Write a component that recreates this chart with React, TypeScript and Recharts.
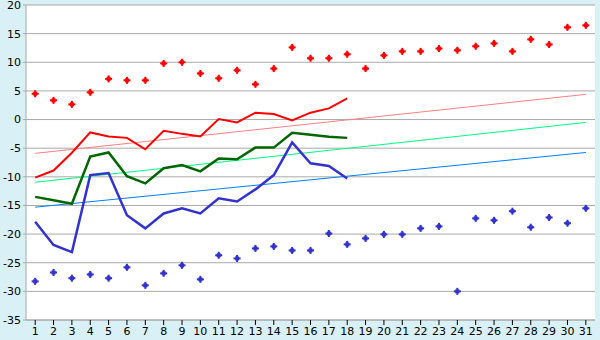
import React from 'react';
import { ComposedChart, Line, XAxis, YAxis, CartesianGrid } from 'recharts';

const days = [1, 2, 3, 4, 5, 6, 7, 8, 9, 10, 11, 12, 13, 14, 15, 16, 17, 18, 19, 20, 21, 22, 23, 24, 25, 26, 27, 28, 29, 30, 31];

// daily max / min markers
const highDots = [4.5, 3.35, 2.65, 4.75, 7.1, 6.85, 6.85, 9.8, 10.0, 8.05, 7.2, 8.6, 6.15, 8.9, 12.6, 10.7, 10.7, 11.4, 8.9, 11.2, 11.9, 11.9, 12.4, 12.1, 12.8, 13.3, 11.9, 14.0, 13.1, 16.1, 16.45];
const lowDots = [-28.25, -26.7, -27.7, -27.05, -27.7, -25.8, -28.95, -26.85, -25.45, -27.9, -23.7, -24.25, -22.5, -22.15, -22.85, -22.85, -19.9, -21.8, -20.75, -20.05, -20.05, -19.0, -18.65, -30.0, -17.25, -17.6, -16.0, -18.8, -17.1, -18.1, -15.5];

// measured so far (days 1..18)
const maxLine = [-10.15, -8.9, -5.8, -2.25, -2.95, -3.2, -5.2, -1.95, -2.5, -2.95, 0.1, -0.5, 1.2, 0.95, -0.15, 1.2, 1.95, 3.7];
const meanLine = [-13.5, -14.1, -14.7, -6.45, -5.75, -9.9, -11.15, -8.5, -7.95, -9.05, -6.8, -6.95, -4.9, -4.9, -2.3, -2.65, -3.0, -3.2];
const minLine = [-17.85, -21.9, -23.15, -9.7, -9.35, -16.7, -19.0, -16.4, -15.5, -16.4, -13.75, -14.3, -12.2, -9.7, -4.0, -7.65, -8.1, -10.3];

// normal values, start and end of month
const normMax = [-5.9, 4.4];
const normMean = [-10.95, -0.5];
const normMin = [-15.3, -5.75];

const yTicks = [20, 15, 10, 5, 0, -5, -10, -15, -20, -25, -30, -35];

const last = days.length - 1;
const data = days.map((d, i) => ({
  day: d,
  hi: highDots[i],
  lo: lowDots[i],
  max: i < maxLine.length ? maxLine[i] : null,
  mean: i < meanLine.length ? meanLine[i] : null,
  min: i < minLine.length ? minLine[i] : null,
  nMax: i === 0 ? normMax[0] : i === last ? normMax[1] : null,
  nMean: i === 0 ? normMean[0] : i === last ? normMean[1] : null,
  nMin: i === 0 ? normMin[0] : i === last ? normMin[1] : null,
}));

const Plus = (color: string) => (props: any) => {
  const { cx, cy, index } = props;
  if (cx == null || cy == null) return <g key={index} />;
  return (
    <g key={index} fill={color}>
      <rect x={cx - 3.5} y={cy - 1} width={7} height={2} />
      <rect x={cx - 1} y={cy - 3.5} width={2} height={7} />
      <rect x={cx - 2} y={cy - 2} width={4} height={4} />
    </g>
  );
};

const tickStyle = { fontFamily: 'DejaVu Sans', fontSize: 11, fill: '#000' };

export default function App() {
  return (
    <div style={{ position: 'fixed', left: 0, top: 0, width: 600, height: 340, background: '#d9f0f7' }}>
      <ComposedChart width={600} height={340} data={data} margin={{ top: 5, right: 5, left: 0, bottom: 0 }}>
        <CartesianGrid vertical={false} stroke="#aaaaaa" fill="#ffffff" />
        <XAxis
          dataKey="day"
          scale="band"
          height={20}
          tick={tickStyle}
          tickSize={5}
          tickMargin={2}
          interval={0}
          stroke="#aaaaaa"
          tickLine={{ stroke: '#000' }}
        />
        <YAxis
          domain={[-35, 20]}
          ticks={yTicks}
          width={26}
          tick={tickStyle}
          tickSize={3}
          tickMargin={2}
          interval={0}
          stroke="#aaaaaa"
        />
        <YAxis yAxisId="r" orientation="right" width={0} domain={[-35, 20]} tick={false} tickLine={false} stroke="#aaaaaa" />
        <Line dataKey="nMax" stroke="#ff8080" strokeWidth={1} dot={false} connectNulls isAnimationActive={false} />
        <Line dataKey="nMean" stroke="#00ff80" strokeWidth={1} dot={false} connectNulls isAnimationActive={false} />
        <Line dataKey="nMin" stroke="#0080ff" strokeWidth={1} dot={false} connectNulls isAnimationActive={false} />
        <Line dataKey="max" stroke="#ff0000" strokeWidth={2} dot={false} isAnimationActive={false} />
        <Line dataKey="mean" stroke="#006600" strokeWidth={2.5} dot={false} isAnimationActive={false} />
        <Line dataKey="min" stroke="#3333cc" strokeWidth={2.5} dot={false} isAnimationActive={false} />
        <Line dataKey="hi" stroke="none" dot={Plus('#ff0000')} activeDot={false} isAnimationActive={false} />
        <Line dataKey="lo" stroke="none" dot={Plus('#3333cc')} activeDot={false} isAnimationActive={false} />
      </ComposedChart>
    </div>
  );
}
